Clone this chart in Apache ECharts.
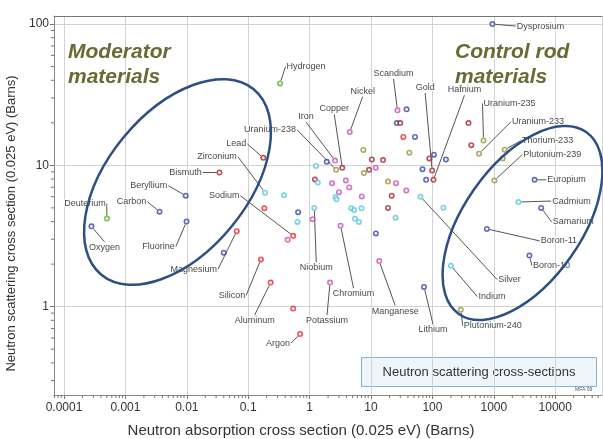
<!DOCTYPE html>
<html>
<head>
<meta charset="utf-8">
<script src="https://cdn.jsdelivr.net/npm/echarts@6/dist/echarts.min.js"></script>
<style>
  html, body { margin: 0; padding: 0; background: #fff; }
  #chart { width: 603px; height: 439px; }
</style>
</head>
<body>
<div id="chart"></div>
<script>
// Thermal neutron cross sections: [absorption (b), scattering (b), element]
const greenPoints = [
  [0.33, 38, 'Hydrogen'],
  [0.00050, 4.2, 'Deuterium']
];
const navyPoints = [
  [0.00028, 3.7, 'Oxygen'],
  [0.0036, 4.7, 'Carbon'],
  [0.0096, 6.1, 'Beryllium'],
  [0.0099, 4.0, 'Fluorine'],
  [73, 1.38, 'Lithium'],
  [770, 3.55, 'Boron-11'],
  [3800, 2.3, 'Boron-10'],
  [5900, 5.0, 'Samarium'],
  [4600, 7.9, 'Europium'],
  [950, 100, 'Dysprosium'],
  [0.040, 2.41, ''],
  [0.65, 4.66, ''],
  [1.9, 10.6, ''],
  [12.0, 3.3, ''],
  [26.3, 19.9, ''],
  [37.9, 24.9, ''],
  [52, 15.9, ''],
  [106, 11.9, ''],
  [166, 11.0, ''],
  [69, 9.4, ''],
  [79, 7.9, '']
];
const darkRedPoints = [
  [0.034, 8.9, 'Bismuth'],
  [0.176, 11.3, 'Lead'],
  [3.4, 9.6, 'Copper'],
  [99, 9.2, 'Gold'],
  [104, 7.9, 'Hafnium'],
  [1.22, 7.95, ''],
  [9.3, 9.3, ''],
  [10.3, 11.0, ''],
  [15.7, 10.9, ''],
  [29.9, 19.9, ''],
  [89, 11.2, ''],
  [387, 19.9, ''],
  [430, 13.9, ''],
  [18.9, 5.0, ''],
  [21.7, 6.1, '']
];
const redPoints = [
  [0.54, 3.17, 'Sodium'],
  [0.065, 3.42, 'Magnesium'],
  [0.161, 2.16, 'Silicon'],
  [0.232, 1.48, 'Aluminum'],
  [0.70, 0.64, 'Argon'],
  [0.183, 4.97, ''],
  [0.54, 0.97, ''],
  [33.6, 15.9, '']
];
const pinkPoints = [
  [2.15, 1.48, 'Potassium'],
  [3.19, 3.74, 'Chromium'],
  [13.6, 2.10, 'Manganese'],
  [27, 24.5, 'Scandium'],
  [4.5, 17.2, 'Nickel'],
  [2.6, 10.8, 'Iron'],
  [0.44, 2.97, ''],
  [1.12, 4.16, ''],
  [2.32, 7.47, ''],
  [3.89, 7.82, ''],
  [4.43, 6.98, ''],
  [3.01, 6.46, ''],
  [7.06, 6.03, ''],
  [25.5, 7.48, ''],
  [37.6, 6.64, ''],
  [11.9, 9.62, '']
];
const cyanPoints = [
  [0.188, 6.41, 'Zirconium'],
  [1.19, 5.0, 'Niobium'],
  [64, 6.0, 'Silver'],
  [200, 1.95, 'Indium'],
  [2520, 5.5, 'Cadmium'],
  [0.383, 6.14, ''],
  [0.635, 3.98, ''],
  [1.36, 7.57, ''],
  [1.27, 9.9, ''],
  [2.64, 5.97, ''],
  [2.74, 5.75, ''],
  [4.78, 4.97, ''],
  [5.32, 4.83, ''],
  [7.0, 4.97, ''],
  [5.48, 4.18, ''],
  [6.38, 3.98, ''],
  [25.1, 4.26, ''],
  [151, 5.02, '']
];
const olivePoints = [
  [290, 0.95, 'Plutonium-240'],
  [1020, 7.8, 'Plutonium-239'],
  [1500, 12.9, 'Thorium-233'],
  [575, 12.1, 'Uranium-233'],
  [680, 15.0, 'Uranium-235'],
  [2.7, 9.3, 'Uranium-238'],
  [18.9, 7.67, ''],
  [7.64, 8.81, ''],
  [7.5, 12.85, ''],
  [42.1, 12.3, ''],
  [1400, 11.2, '']
];

// Axis tick labels, keyed by decade exponent
const xTickLabels = ['0.0001', '0.001', '0.01', '0.1', '1', '10', '100', '1000', '10000'];
const xTickExponents = [-4, -3, -2, -1, 0, 1, 2, 3, 4];
const yTickLabels = ['1', '10', '100'];
const yTickExponents = [0, 1, 2];

// Label placement (pixel offset of each label centre from its point)
const labelOffsets = {
  'Hydrogen': [26, -17], 'Deuterium': [-22, -15], 'Oxygen': [13, 21],
  'Carbon': [-28, -10], 'Beryllium': [-37, -10], 'Fluorine': [-28, 25],
  'Bismuth': [-34, 0], 'Lead': [-27, -14], 'Zirconium': [-48, -36],
  'Sodium': [-69, -40], 'Magnesium': [-43, 38], 'Silicon': [-29, 36],
  'Aluminum': [-16, 38], 'Argon': [-22, 9], 'Potassium': [-3, 38],
  'Niobium': [2, 60], 'Chromium': [13, 68], 'Manganese': [16, 50],
  'Lithium': [9, 43], 'Silver': [89, 83], 'Indium': [41, 31],
  'Plutonium-240': [32, 16], 'Boron-11': [72, 12], 'Boron-10': [22, 10],
  'Cadmium': [53, -1], 'Samarium': [32, 14], 'Europium': [32, 0],
  'Plutonium-239': [58, -26], 'Thorium-233': [43, -9], 'Uranium-233': [59, -32],
  'Uranium-235': [26, -37], 'Dysprosium': [48, 2], 'Hafnium': [31, -90],
  'Gold': [-7, -83], 'Scandium': [-4, -37], 'Nickel': [13, -41],
  'Copper': [-8, -59], 'Iron': [-29, -44], 'Uranium-238': [-66, -40]
};

const xMin = 6.87e-5, xMax = 5.78e4;
const yMin = 0.237, yMax = 114;

const chart = echarts.init(document.getElementById('chart'), null, { renderer: 'canvas' });

function dotColor(c) {
  return {
    type: 'radial', x: 0.5, y: 0.5, r: 0.5,
    colorStops: [
      { offset: 0, color: '#ffffff' },
      { offset: 0.3, color: '#f4eef4' },
      { offset: 0.62, color: c },
      { offset: 1, color: c }
    ]
  };
}

function makeSeries(points, color) {
  return {
    type: 'scatter',
    symbol: 'circle',
    symbolSize: 6,
    itemStyle: { color: dotColor(color) },
    data: points.map(p => ({
      value: [p[0], p[1]],
      name: p[2],
      label: { show: p[2] !== '' }
    })),
    label: {
      show: true,
      position: 'inside',
      formatter: '{b}',
      fontSize: 9,
      fontFamily: 'Liberation Sans, Arial, sans-serif',
      color: '#111',
      textBorderColor: '#fff',
      textBorderWidth: 2
    },
    labelLine: {
      show: true,
      lineStyle: { color: '#555', width: 1 }
    },
    labelLayout: function (params) {
      const off = labelOffsets[params.text];
      if (!off) return {};
      return { dx: off[0], dy: off[1] };
    },
    emphasis: { disabled: true },
    z: 3
  };
}

// Log-spaced minor ticks (2..9 per decade) along both axes
function minorValues(lo, hi) {
  const out = [];
  for (let e = Math.floor(Math.log10(lo)); e <= Math.ceil(Math.log10(hi)); e++) {
    for (let m = 2; m <= 9; m++) {
      const v = m * Math.pow(10, e);
      if (v > lo && v < hi) out.push(v);
    }
  }
  return out;
}
const xMinor = minorValues(xMin, xMax);
const yMinor = minorValues(yMin, yMax);

const minorTickSeries = {
  type: 'custom',
  silent: true,
  clip: false,
  data: [[1, 1]],
  z: 1,
  renderItem: function (params, api) {
    const children = [];
    xMinor.forEach(v => {
      const p = api.coord([v, yMin]);
      children.push({ type: 'line', shape: { x1: p[0], y1: p[1], x2: p[0], y2: p[1] + 3 },
        style: { stroke: '#777', lineWidth: 1 } });
    });
    yMinor.forEach(v => {
      const p = api.coord([xMin, v]);
      children.push({ type: 'line', shape: { x1: p[0] - 3, y1: p[1], x2: p[0], y2: p[1] },
        style: { stroke: '#777', lineWidth: 1 } });
    });
    return { type: 'group', children: children };
  }
};

function labelFor(labels, exps) {
  return function (v) {
    const e = Math.round(Math.log10(v));
    const i = exps.indexOf(e);
    return i >= 0 ? labels[i] : '';
  };
}

const option = {
  backgroundColor: '#fff',
  animation: false,
  grid: { left: 54, right: 1, top: 16, bottom: 44, containLabel: false, outerBoundsMode: 'none' },
  xAxis: [{
    type: 'log',
    logBase: 10,
    min: xMin,
    max: xMax,
    name: 'Neutron absorption cross section (0.025 eV) (Barns)',
    nameLocation: 'middle',
    nameGap: 28,
    nameTextStyle: {
      fontSize: 15, color: '#333', fontFamily: 'Liberation Sans, Arial, sans-serif',
      padding: [0, 54, 0, 0]
    },
    axisLine: { show: true, lineStyle: { color: '#888', width: 1 } },
    axisTick: { show: true, length: 4, lineStyle: { color: '#777' } },
    axisLabel: {
      show: true, margin: 7, fontSize: 12, color: '#333',
      fontFamily: 'Liberation Sans, Arial, sans-serif',
      showMinLabel: false, showMaxLabel: false,
      formatter: labelFor(xTickLabels, xTickExponents)
    },
    splitLine: { show: true, lineStyle: { color: '#d2d2d2', width: 1 } }
  }, {
    type: 'log',
    logBase: 10,
    position: 'top',
    min: xMin,
    max: xMax,
    axisLine: { show: true, lineStyle: { color: '#777', width: 1 } },
    axisTick: { show: false },
    axisLabel: { show: false },
    splitLine: { show: false }
  }],
  yAxis: {
    type: 'log',
    logBase: 10,
    min: yMin,
    max: yMax,
    name: 'Neutron scattering cross section (0.025 eV) (Barns)',
    nameLocation: 'middle',
    nameGap: 28,
    nameTextStyle: {
      fontSize: 13, color: '#333', fontFamily: 'Liberation Sans, Arial, sans-serif',
      padding: [0, 36, 0, 0]
    },
    axisLine: { show: true, lineStyle: { color: '#888', width: 1 } },
    axisTick: { show: true, length: 4, lineStyle: { color: '#777' } },
    axisLabel: {
      show: true, margin: 5, fontSize: 12, color: '#333',
      fontFamily: 'Liberation Sans, Arial, sans-serif',
      showMinLabel: false, showMaxLabel: false,
      formatter: labelFor(yTickLabels, yTickExponents)
    },
    splitLine: { show: true, lineStyle: { color: '#d2d2d2', width: 1 } }
  },
  series: [
    minorTickSeries,
    makeSeries(greenPoints, '#4fb82f'),
    makeSeries(navyPoints, '#3a45a3'),
    makeSeries(darkRedPoints, '#a3262e'),
    makeSeries(redPoints, '#e8292b'),
    makeSeries(pinkPoints, '#c94fb8'),
    makeSeries(cyanPoints, '#58c8de'),
    makeSeries(olivePoints, '#97973a')
  ],
  graphic: [
    {
      type: 'ellipse', x: 177.5, y: 182, rotation: 50.6 * Math.PI / 180,
      shape: { cx: 0, cy: 0, rx: 120, ry: 70 },
      style: { fill: 'none', stroke: '#2c4f84', lineWidth: 2.5 }, z: 100, silent: true
    },
    {
      type: 'ellipse', x: 522.5, y: 223, rotation: 55 * Math.PI / 180,
      shape: { cx: 0, cy: 0, rx: 111, ry: 59 },
      style: { fill: 'none', stroke: '#2c4f84', lineWidth: 2.5 }, z: 100, silent: true
    },
    {
      type: 'text', left: 68, top: 40, z: 100, silent: true,
      style: {
        text: 'Moderator\nmaterials', fill: '#6b6a32',
        font: 'italic bold 21px "Liberation Sans", Arial, sans-serif', lineHeight: 25
      }
    },
    {
      type: 'text', left: 455, top: 40, z: 100, silent: true,
      style: {
        text: 'Control rod\nmaterials', fill: '#6b6a32',
        font: 'italic bold 21px "Liberation Sans", Arial, sans-serif', lineHeight: 25
      }
    },
    {
      type: 'group', left: 361, top: 357, z: 100, silent: true,
      children: [
        { type: 'rect', shape: { x: 0, y: 0, width: 235, height: 29 },
          style: { fill: '#eef5fb', stroke: '#80b3dc', lineWidth: 1 } },
        { type: 'text', x: 117.5, y: 14.5,
          style: { text: 'Neutron scattering cross-sections', fill: '#333',
            font: '13px "Liberation Sans", Arial, sans-serif', align: 'center', verticalAlign: 'middle' } }
      ]
    },
    {
      type: 'text', left: 575, top: 387, z: 100, silent: true,
      style: { text: 'MFA 09', fill: '#555', font: '5px "Liberation Sans", Arial, sans-serif' }
    }
  ]
};

chart.setOption(option);
</script>
</body>
</html>
